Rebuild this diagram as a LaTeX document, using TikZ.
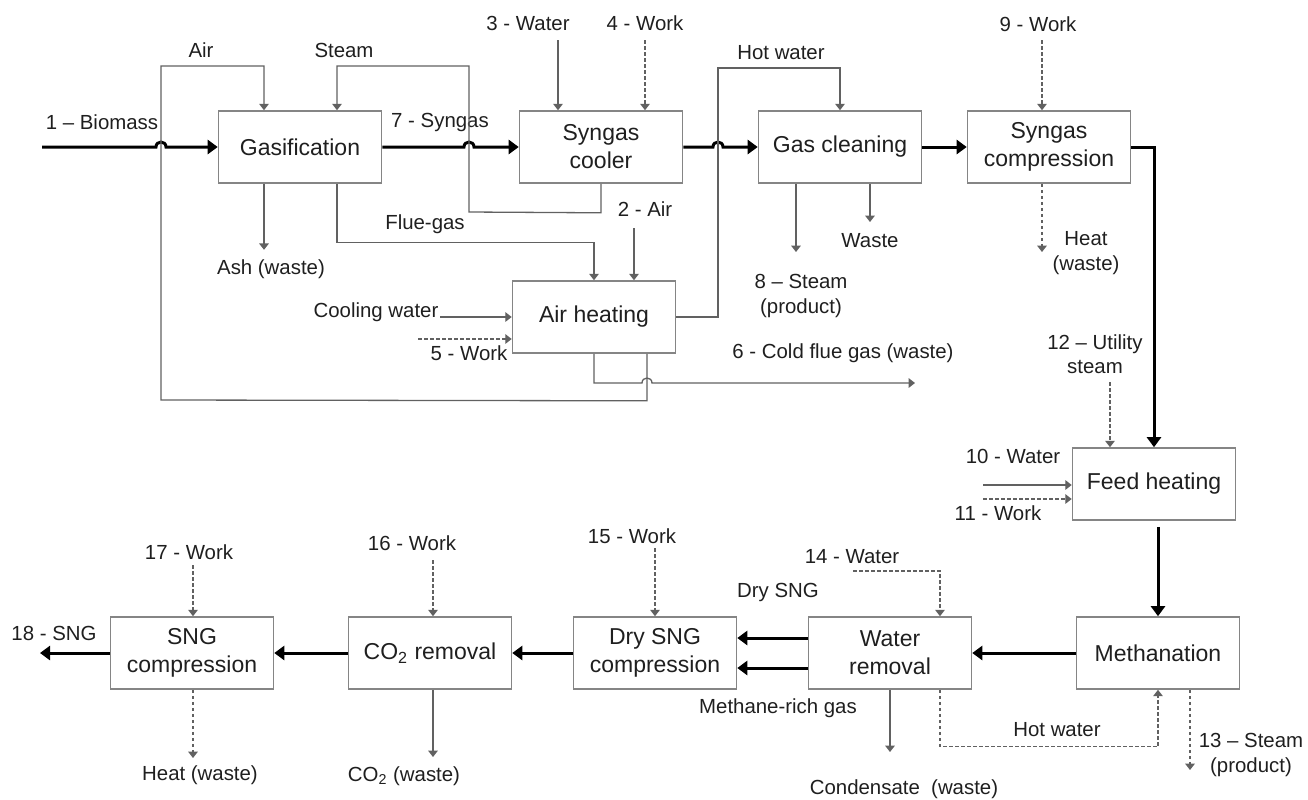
\documentclass[tikz,border=0pt]{standalone}
\usepackage{fontspec}
\setmainfont{Liberation Sans}
\usetikzlibrary{arrows.meta}
\definecolor{boxgray}{gray}{0.52}
\definecolor{linegray}{gray}{0.38}
\definecolor{txt}{gray}{0.12}

\begin{document}
\begin{tikzpicture}[x=0.5pt,y=-0.5pt,
    box/.style={draw=boxgray,line width=0.8pt,minimum width=81.5pt,
        minimum height=36pt,align=center,text=txt,
        font=\fontsize{11.5}{14}\selectfont},
    lbl/.style={align=center,text=txt,inner sep=0pt,
        font=\fontsize{10.2}{12.3}\selectfont},
    flow/.style={draw=linegray,line width=0.65pt,
        -{Triangle[length=3.2pt,width=4.8pt]}},
    work/.style={flow,dash pattern=on 1.8pt off 1.2pt},
    mainflow/.style={draw=black,line width=1.5pt,
        -{Triangle[length=5pt,width=7pt]}},
    hop/.style={out=90,in=90,looseness=1.7}]
    \useasboundingbox (0,0) rectangle (1308,799);

    % process units
    \node[box] (gas) at (300,147) {Gasification};
    \node[box] (cool) at (601,147) {Syngas\\cooler};
    \node[box] (clean) at (840,147) {Gas cleaning};
    \node[box] (comp) at (1049,147) {Syngas\\compression};
    \node[box] (airh) at (594,317) {Air heating};
    \node[box] (feed) at (1154,484) {Feed heating};
    \node[box] (meth) at (1158,653) {Methanation};
    \node[box] (water) at (890,653) {Water\\removal};
    \node[box] (dry) at (655,653) {Dry SNG\\compression};
    \node[box] (co2) at (430,653) {CO\textsubscript{2} removal};
    \node[box] (sng) at (192,653) {SNG\\compression};

    % stream labels
    \node[lbl] (l1) at (102,122) {1 – Biomass};
    \node[lbl] (lair) at (201,50) {Air};
    \node[lbl] (lsteam) at (344,50) {Steam};
    \node[lbl] (l7) at (440,122) {7 - Syngas};
    \node[lbl] (l3) at (528,23) {3 - Water};
    \node[lbl] (l4) at (645,23) {4 - Work};
    \node[lbl] (lhw) at (781,53) {Hot water};
    \node[lbl] (l9) at (1038,24) {9 - Work};
    \node[lbl] (lflue) at (425,224) {Flue-gas};
    \node[lbl] (l2) at (645,209) {2 - Air};
    \node[lbl] (lash) at (271,269) {Ash (waste)};
    \node[lbl] (l8) at (801,296) {8 – Steam\\(product)};
    \node[lbl] (lwaste) at (870,241) {Waste};
    \node[lbl] (lheat) at (1086,253) {Heat\\(waste)};
    \node[lbl] (lcool) at (376,312) {Cooling water};
    \node[lbl] (l5) at (469,353) {5 - Work};
    \node[lbl] (l6) at (843,353) {6 - Cold flue gas (waste)};
    \node[lbl] (l12) at (1095,354) {12 – Utility\\steam};
    \node[lbl] (l10) at (1013,456) {10 - Water};
    \node[lbl] (l11) at (998,513) {11 - Work};
    \node[lbl] (l14) at (852,557) {14 - Water};
    \node[lbl] (l15) at (632,536) {15 - Work};
    \node[lbl] (l16) at (412,543) {16 - Work};
    \node[lbl] (l17) at (189,552) {17 - Work};
    \node[lbl] (l18) at (54,633) {18 - SNG};
    \node[lbl] (ldry) at (778,592) {Dry SNG};
    \node[lbl] (lrich) at (778,708) {Methane-rich gas};
    \node[lbl] (lhw2) at (1057,730) {Hot water};
    \node[lbl] (l13) at (1251,755) {13 – Steam\\(product)};
    \node[lbl] (lcond) at (904,789) {Condensate\ \ (waste)};
    \node[lbl] (lco2) at (404,776) {CO\textsubscript{2} (waste)};
    \node[lbl] (lheat2) at (200,775) {Heat (waste)};

    % free ends
    \coordinate (in1) at (42,147);
    \coordinate (a2) at (634,228);
    \coordinate (w3) at (558,40);
    \coordinate (k4) at (645,40);
    \coordinate (k5) at (418,339);
    \coordinate (cw) at (440,317);
    \coordinate (cf) at (915,383);
    \coordinate (s8) at (796,252);
    \coordinate (wst) at (870,222);
    \coordinate (k9) at (1042,40);
    \coordinate (h9) at (1042,252);
    \coordinate (w10) at (983,485);
    \coordinate (k11) at (983,499);
    \coordinate (k12) at (1110,382);
    \coordinate (s13) at (1190,770);
    \coordinate (w14) at (853,571);
    \coordinate (cd) at (890,752);
    \coordinate (k15) at (655,548);
    \coordinate (k16) at (433,560);
    \coordinate (c16) at (433,757);
    \coordinate (k17) at (193,565);
    \coordinate (h17) at (193,758);
    \coordinate (out18) at (40,653);

    % main gas line
    \draw[mainflow] (in1) -- (156,147) to[hop] (166,147) -- (gas.west);
    \draw[mainflow] (gas.east) -- (464,147) to[hop] (474,147) -- (cool.west);
    \draw[mainflow] (cool.east) -- (713,147) to[hop] (723,147) -- (clean.west);
    \draw[mainflow] (clean.east) -- (comp.west);
    \draw[mainflow] (comp.east) -| (feed.north);
    \draw[mainflow] ([yshift=-3pt]meth.north |- feed.south) -- (meth.north);
    \draw[mainflow] (meth.west) -- (water.east);
    \draw[mainflow] ([yshift=7.5pt]water.west) -- ([yshift=7.5pt]dry.east);
    \draw[mainflow] ([yshift=-7.5pt]water.west) -- ([yshift=-7.5pt]dry.east);
    \draw[mainflow] (dry.west) -- (co2.east);
    \draw[mainflow] (co2.west) -- (sng.east);
    \draw[mainflow] (sng.west) -- (out18);

    % gasifier side streams
    \draw[flow] ([xshift=26.5pt]airh.south) -- ++(0,47) -- (161,400) -- (161,66)
        -| ([xshift=-18pt]gas.north);
    \draw[flow] (cool.south) -- ++(0,29) -- (469,212) -- (469,66)
        -| ([xshift=18.5pt]gas.north);
    \draw[flow] ([xshift=18.5pt]gas.south) -- ++(0,59) -| (airh.north);
    \draw[flow] ([xshift=-18pt]gas.south) -- ++(0,66);
    \draw[flow] (a2) -- (a2 |- airh.north);
    \draw[flow] (w3) -- (w3 |- cool.north);
    \draw[work] (k4) -- (k4 |- cool.north);
    \draw[flow] (airh.east) -- (718,317) -- (718,68) -| (clean.north);
    \draw[flow] (cw) -- (airh.west);
    \draw[work] (k5) -- (k5 -| airh.west);
    \draw[flow] (airh.south) -- (594,383) -- (642,383) to[hop] (652,383) -- (cf);

    % cleaning and compression
    \draw[flow] (s8 |- clean.south) -- (s8);
    \draw[flow] (wst |- clean.south) -- (wst);
    \draw[work] (k9) -- (k9 |- comp.north);
    \draw[work] (h9 |- comp.south) -- (h9);

    % feed heating and methanation
    \draw[work] (k12) -- (k12 |- feed.north);
    \draw[flow] (w10) -- (w10 -| feed.west);
    \draw[work] (k11) -- (k11 -| feed.west);
    \draw[work] (s13 |- meth.south) -- (s13);
    \draw[work] (w14) -| ([xshift=25pt]water.north);
    \draw[flow] (water.south) -- (cd);
    \draw[work] ([xshift=25pt]water.south) -- ++(0,57) -| (meth.south);

    % upgrading
    \draw[work] (k15) -- (k15 |- dry.north);
    \draw[work] (k16) -- (k16 |- co2.north);
    \draw[flow] (c16 |- co2.south) -- (c16);
    \draw[work] (k17) -- (k17 |- sng.north);
    \draw[work] (h17 |- sng.south) -- (h17);
\end{tikzpicture}
\end{document}
